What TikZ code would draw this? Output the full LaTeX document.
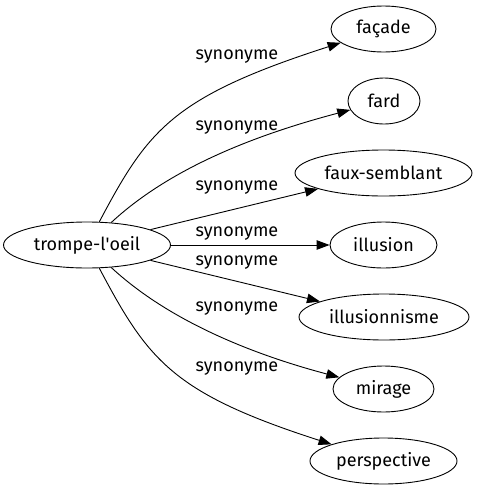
\documentclass[tikz,border=0pt]{standalone}
\usepackage{fontspec}
\setmainfont{Fira Sans}
\usetikzlibrary{arrows.meta,shapes.geometric}

\begin{document}
\begin{tikzpicture}[x=1pt,y=-1pt,>={Triangle[length=13pt,width=9.5pt]},
  word/.style={draw,ellipse,inner sep=0pt,minimum height=46pt,line width=0.9pt,
               font=\fontsize{18}{21}\selectfont},
  synlabel/.style={inner sep=0pt,font=\fontsize{18}{21}\selectfont},
  synedge/.style={->,line width=0.9pt}]
  \useasboundingbox (0,0) rectangle (477,491);
  % words
  \node[word,minimum width=167pt] (trompe) at (87,245) {trompe-l\textquotesingle oeil};
  \node[word,minimum width=105pt] (facade) at (383.5,29) {façade};
  \node[word,minimum width=72pt] (fard) at (384,101) {fard};
  \node[word,minimum width=177pt] (faux) at (383.5,173) {faux-semblant};
  \node[word,minimum width=107pt] (illusion) at (383.5,245) {illusion};
  \node[word,minimum width=170pt] (illnisme) at (384,317) {illusionnisme};
  \node[word,minimum width=101pt] (mirage) at (383.5,389) {mirage};
  \node[word,minimum width=147pt] (persp) at (383.5,461) {perspective};
  % edges
  \draw[synedge] (trompe) .. controls (148,130) and (172,97) .. (facade);
  \draw[synedge] (trompe) .. controls (170,168) and (255,135) .. (fard);
  \draw[synedge] (trompe) -- (faux);
  \draw[synedge] (trompe) -- (illusion);
  \draw[synedge] (trompe) -- (illnisme);
  \draw[synedge] (trompe) .. controls (170,322) and (255,355) .. (mirage);
  \draw[synedge] (trompe) .. controls (148,360) and (172,393) .. (persp);
  % labels
  \node[synlabel] (l1) at (237,57) {synonyme};
  \node[synlabel] (l2) at (237,128) {synonyme};
  \node[synlabel] (l3) at (237,188) {synonyme};
  \node[synlabel] (l4) at (237,234) {synonyme};
  \node[synlabel] (l5) at (237,263) {synonyme};
  \node[synlabel] (l6) at (237,309) {synonyme};
  \node[synlabel] (l7) at (237,369) {synonyme};
\end{tikzpicture}
\end{document}
